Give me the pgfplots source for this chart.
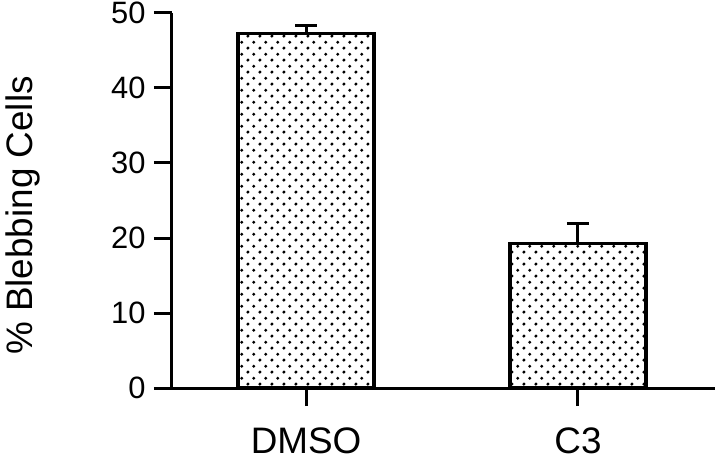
\documentclass[border=0pt]{standalone}
\usepackage{pgfplots}
\pgfplotsset{compat=1.18}
\usepackage{fontspec}
\setmainfont{Liberation Sans}
\usetikzlibrary{patterns}
\pgfdeclarepatternformonly{bdots}{\pgfqpoint{0bp}{0bp}}{\pgfqpoint{12.3bp}{12.3bp}}{\pgfqpoint{12.3bp}{12.3bp}}{%
  \pgfpathcircle{\pgfqpoint{3.075bp}{3.075bp}}{1.8bp}%
  \pgfpathcircle{\pgfqpoint{9.225bp}{9.225bp}}{1.8bp}%
  \pgfusepath{fill}}
\begin{document}
\begin{tikzpicture}
\useasboundingbox (-172bp,-84bp) rectangle (548bp,388bp);
\begin{axis}[
  at={(0,0)}, anchor=south west,
  scale only axis, width=543bp, height=375bp,
  xmin=-0.493, xmax=1.504, ymin=0, ymax=50,
  axis x line*=bottom, axis y line*=left,
  axis line style={line width=3bp, black},
  xtick={0,1}, xticklabels={DMSO,C3},
  ytick={0,10,20,30,40,50},
  tick align=outside, major tick length=18bp,
  every tick/.style={black, line width=3bp},
  yticklabel style={font=\fontsize{31}{34}\selectfont, xshift=-5bp},
  xticklabel style={font=\fontsize{37}{40}\selectfont, anchor=north, yshift=-18bp},
  /pgf/number format/assume math mode=true,
  ylabel={\% Blebbing Cells},
  every axis y label/.style={at={(axis description cs:0,0.46)}, xshift=-149bp, rotate=90, anchor=center, font=\fontsize{37}{40}\selectfont},
  clip=false,
]
\addplot[ybar, bar width=0.5, draw=black, line width=3.2bp, pattern=bdots,
  error bars/.cd, y dir=plus, y explicit,
  error bar style={line width=3bp, black},
  error mark options={rotate=90, mark size=11bp, line width=3bp, black}]
  coordinates {(0,47.3) +- (0,1.0) (1,19.3) +- (0,2.7)};
\end{axis}
\end{tikzpicture}
\end{document}
